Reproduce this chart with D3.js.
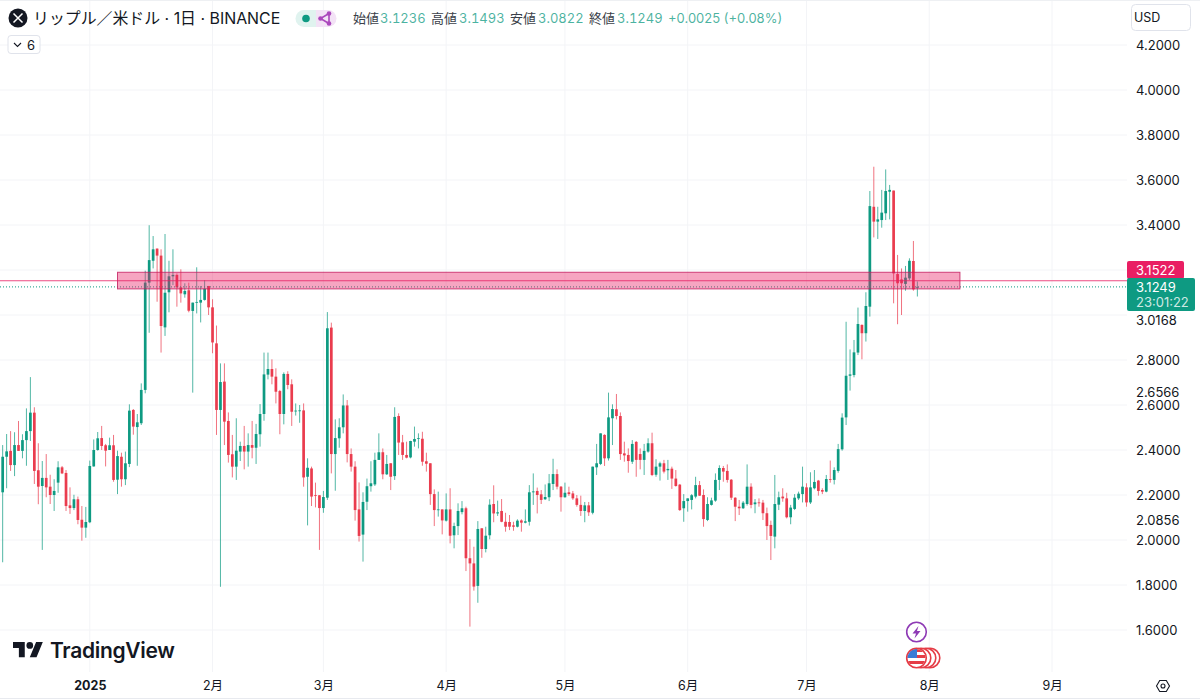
<!DOCTYPE html>
<html lang="ja">
<head>
<meta charset="utf-8">
<script src="https://cdn.jsdelivr.net/npm/d3@7"></script>
<style>
  html, body { margin: 0; background: #fff; }
  svg { display: block; font-family: Inter, "Noto Sans CJK JP", sans-serif; }
  .num { font-variant-numeric: tabular-nums; }
</style>
</head>
<body>
<svg id="chart" width="1200" height="700"></svg>
<script>
// [open, high, low, close]
const dec24 = [
  [2.212,2.422,1.901,2.370],[2.370,2.471,2.230,2.394],[2.396,2.484,2.307,2.333],[2.333,2.479,2.284,2.422],
  [2.422,2.529,2.396,2.396],[2.396,2.470,2.363,2.444],[2.444,2.585,2.330,2.484],[2.484,2.724,2.440,2.566],
  [2.566,2.590,2.249,2.307],[2.310,2.430,2.159,2.237],[2.240,2.351,1.956,2.276],[2.276,2.382,2.190,2.234],
  [2.237,2.290,2.160,2.200],[2.200,2.270,2.129,2.218],[2.255,2.350,2.210,2.323],[2.323,2.329,2.293,2.296],
  [2.298,2.311,2.129,2.151],[2.154,2.234,2.116,2.142],[2.142,2.201,2.133,2.181],[2.181,2.193,2.070,2.089],
  [2.090,2.151,1.997,2.055],[2.055,2.147,2.010,2.080]
];
const jan25 = [
  [2.079,2.353,2.075,2.329],[2.327,2.447,2.326,2.400],[2.400,2.480,2.397,2.452],[2.453,2.507,2.400,2.418],
  [2.421,2.427,2.327,2.397],[2.400,2.455,2.400,2.421],[2.421,2.467,2.259,2.267],[2.268,2.397,2.204,2.373],
  [2.370,2.388,2.237,2.270],[2.270,2.393,2.244,2.341],[2.338,2.603,2.324,2.575],[2.578,2.582,2.468,2.504],
  [2.502,2.560,2.330,2.523],[2.519,2.696,2.511,2.667],[2.667,3.197,2.652,3.144],[3.144,3.399,2.921,3.244],
  [3.241,3.351,3.207,3.292],[3.295,3.296,3.059,3.264],[3.264,3.292,2.833,2.951],[2.945,3.360,2.907,3.099],
  [3.101,3.241,3.012,3.172],[3.172,3.292,3.133,3.178],[3.178,3.185,3.037,3.123],[3.123,3.203,3.055,3.096],
  [3.092,3.141,3.077,3.107],[3.110,3.144,3.012,3.019],[3.018,3.055,2.655,3.055],[3.055,3.212,3.007,3.058],
  [3.055,3.129,2.967,3.067],[3.067,3.155,3.064,3.117],[3.129,3.129,3.000,3.034]
];
const feb25 = [
  [3.034,3.070,2.830,2.878],[2.874,2.953,2.467,2.578],[2.578,2.785,1.792,2.702],[2.704,2.785,2.422,2.526],
  [2.529,2.567,2.344,2.378],[2.381,2.467,2.278,2.326],[2.326,2.541,2.267,2.397],[2.393,2.437,2.351,2.418],
  [2.418,2.507,2.314,2.393],[2.393,2.474,2.326,2.422],[2.422,2.529,2.363,2.410],[2.410,2.516,2.338,2.471],
  [2.470,2.604,2.415,2.560],[2.560,2.833,2.530,2.736],[2.735,2.833,2.714,2.760],[2.760,2.803,2.692,2.726],
  [2.726,2.763,2.607,2.659],[2.662,2.667,2.470,2.560],[2.560,2.745,2.514,2.738],[2.738,2.750,2.670,2.689],
  [2.692,2.714,2.507,2.570],[2.572,2.607,2.553,2.575],[2.573,2.600,2.521,2.576],[2.576,2.607,2.237,2.278],
  [2.281,2.363,2.065,2.321],[2.318,2.326,2.151,2.193],[2.199,2.255,2.145,2.197],[2.199,2.199,1.956,2.142]
];
const mar25 = [
  [2.142,2.218,2.121,2.191],[2.188,3.013,2.178,2.941],[2.944,2.966,2.296,2.382],[2.382,2.536,2.219,2.453],
  [2.452,2.541,2.410,2.501],[2.501,2.647,2.474,2.598],[2.598,2.622,2.345,2.382],[2.382,2.407,2.304,2.326],
  [2.326,2.350,2.086,2.133],[2.136,2.256,1.993,2.018],[2.024,2.212,1.904,2.169],[2.170,2.273,2.133,2.239],
  [2.239,2.350,2.215,2.252],[2.247,2.388,2.240,2.356],[2.356,2.474,2.356,2.390],[2.390,2.407,2.270,2.292],
  [2.292,2.378,2.289,2.338],[2.341,2.341,2.222,2.281],[2.284,2.590,2.267,2.547],[2.551,2.563,2.378,2.433],
  [2.434,2.467,2.356,2.378],[2.378,2.437,2.363,2.366],[2.367,2.441,2.363,2.440],[2.437,2.504,2.415,2.449],
  [2.450,2.474,2.407,2.453],[2.450,2.481,2.330,2.348],[2.350,2.388,2.304,2.339],[2.341,2.341,2.156,2.204],
  [2.204,2.225,2.062,2.133],[2.133,2.215,2.104,2.136],[2.136,2.136,2.025,2.087]
];
const apr25 = [
  [2.086,2.207,2.082,2.136],[2.136,2.230,1.985,2.019],[2.021,2.077,1.963,2.062],[2.062,2.163,2.022,2.129],
  [2.124,2.173,2.114,2.141],[2.141,2.148,1.862,1.919],[1.919,2.004,1.615,1.896],[1.896,1.970,1.775,1.793],
  [1.796,2.084,1.721,2.049],[2.052,2.052,1.921,1.960],[1.960,2.059,1.945,2.019],[2.021,2.181,2.003,2.157],
  [2.160,2.243,2.079,2.118],[2.118,2.175,2.107,2.123],[2.129,2.182,2.079,2.081],[2.081,2.121,2.037,2.059],
  [2.080,2.111,2.044,2.059],[2.065,2.081,2.041,2.059],[2.059,2.092,2.056,2.086],[2.087,2.092,2.037,2.077],
  [2.077,2.136,2.074,2.083],[2.081,2.244,2.064,2.212],[2.212,2.296,2.156,2.216],[2.218,2.233,2.118,2.200],
  [2.203,2.222,2.160,2.178],[2.181,2.247,2.178,2.191],[2.190,2.293,2.173,2.252],[2.249,2.361,2.222,2.293],
  [2.293,2.314,2.225,2.237],[2.237,2.240,2.126,2.190]
];
const may25 = [
  [2.190,2.255,2.188,2.210],[2.212,2.237,2.196,2.204],[2.207,2.218,2.178,2.185],[2.185,2.200,2.148,2.156],
  [2.156,2.197,2.107,2.129],[2.129,2.169,2.079,2.154],[2.154,2.169,2.107,2.123],[2.121,2.326,2.114,2.326],
  [2.323,2.427,2.289,2.341],[2.338,2.474,2.333,2.474],[2.467,2.470,2.329,2.363],[2.363,2.655,2.353,2.545],
  [2.541,2.603,2.422,2.582],[2.581,2.649,2.536,2.551],[2.551,2.567,2.356,2.382],[2.385,2.437,2.348,2.376],
  [2.378,2.407,2.299,2.351],[2.348,2.444,2.338,2.427],[2.436,2.440,2.281,2.356],[2.382,2.407,2.314,2.356],
  [2.356,2.427,2.289,2.396],[2.393,2.452,2.388,2.430],[2.430,2.477,2.284,2.289],[2.290,2.359,2.281,2.326],
  [2.326,2.348,2.264,2.341],[2.341,2.356,2.296,2.304],[2.310,2.356,2.267,2.316],[2.317,2.326,2.227,2.273],
  [2.273,2.311,2.237,2.240],[2.246,2.249,2.129,2.133],[2.141,2.204,2.081,2.173]
];
const jun25 = [
  [2.173,2.185,2.126,2.185],[2.178,2.204,2.136,2.199],[2.193,2.281,2.185,2.244],[2.244,2.262,2.196,2.197],
  [2.200,2.225,2.059,2.093],[2.089,2.190,2.084,2.160],[2.156,2.188,2.153,2.176],[2.175,2.296,2.170,2.267],
  [2.267,2.332,2.222,2.320],[2.320,2.329,2.259,2.304],[2.307,2.336,2.255,2.267],[2.268,2.271,2.178,2.188],
  [2.188,2.190,2.084,2.148],[2.148,2.178,2.111,2.141],[2.141,2.173,2.138,2.166],[2.160,2.336,2.153,2.237],
  [2.237,2.252,2.141,2.156],[2.159,2.182,2.119,2.167],[2.167,2.185,2.148,2.164],[2.166,2.178,2.089,2.119],
  [2.119,2.144,2.000,2.062],[2.067,2.086,1.911,2.018],[2.015,2.289,1.963,2.160],[2.157,2.215,2.133,2.190],
  [2.193,2.230,2.170,2.185],[2.185,2.210,2.096,2.101],[2.101,2.156,2.070,2.144],[2.138,2.204,2.133,2.188],
  [2.185,2.215,2.178,2.206],[2.204,2.326,2.167,2.237]
];
const jul25 = [
  [2.234,2.252,2.148,2.167],[2.167,2.301,2.160,2.234],[2.230,2.311,2.225,2.258],[2.264,2.267,2.197,2.218],
  [2.222,2.230,2.204,2.215],[2.215,2.289,2.212,2.271],[2.271,2.353,2.255,2.268],[2.267,2.323,2.247,2.311],
  [2.307,2.427,2.299,2.404],[2.403,2.563,2.397,2.544],[2.545,2.970,2.511,2.730],[2.730,2.847,2.664,2.736],
  [2.733,2.889,2.723,2.834],[2.833,3.033,2.822,2.960],[2.956,2.958,2.803,2.919],[2.919,3.101,2.882,3.040],
  [3.037,3.551,2.993,3.484],[3.481,3.659,3.345,3.415],[3.415,3.481,3.338,3.425],[3.422,3.556,3.388,3.455],
  [3.452,3.647,3.422,3.551],[3.548,3.578,3.425,3.556],[3.553,3.553,3.052,3.185],[3.182,3.267,2.959,3.141],
  [3.158,3.207,3.000,3.141],[3.138,3.218,3.108,3.166],[3.163,3.252,3.155,3.241],[3.240,3.329,3.108,3.114],
  [3.1236,3.1493,3.0822,3.1249]
];

const priceTicks = [1.6, 1.8, 2.0, 2.2, 2.4, 2.6, 2.8, 3.0, 3.2, 3.4, 3.6, 3.8, 4.0, 4.2];
const hiddenTicks = [3.0, 3.2];
const extraTicks = [3.0168, 2.6566, 2.0856];
const monthLabels = ["2025", "2月", "3月", "4月", "5月", "6月", "7月", "8月", "9月"];
const firstDay = new Date(Date.UTC(2024, 11, 10));
const lastDay = new Date(Date.UTC(2025, 8, 1));
const monthTicks = monthLabels.map((d, i) => new Date(Date.UTC(2025, i, 1)));

const zoneTop = 3.1900;
const zoneBottom = 3.1160;
const zoneStart = new Date(Date.UTC(2025, 0, 8));
const zoneEnd = new Date(Date.UTC(2025, 7, 8, 18));
const alertPrice = 3.1522;
const lastPrice = 3.1249;

const headerStats = [
  ["始値", "3.1236", 353, 380], ["高値", "3.1493", 431, 459],
  ["安値", "3.0822", 510, 538], ["終値", "3.1249", 589, 617]
];

const up = "#0e9a82", down = "#ea3c4e";
const gridColor = "#f3f4f7";
const plotRight = 1127;

const candles = [...dec24, ...jan25, ...feb25, ...mar25, ...apr25, ...may25, ...jun25, ...jul25]
  .map((d, i) => ({ date: d3.utcDay.offset(firstDay, i), open: d[0], high: d[1], low: d[2], close: d[3] }));

const svg = d3.select("#chart");
const x = d3.scaleUtc().domain([firstDay, lastDay]).range([2.67, 1052]);
const y = d3.scaleLinear().domain([1.6, 4.2]).range([630, 45]);

// grid
svg.append("g").selectAll("line").data(priceTicks).enter().append("line")
  .attr("x1", 0).attr("x2", plotRight)
  .attr("y1", d => y(d)).attr("y2", d => y(d))
  .attr("stroke", gridColor);
svg.append("g").selectAll("line").data(monthTicks).enter().append("line")
  .attr("x1", d => x(d)).attr("x2", d => x(d))
  .attr("y1", 0).attr("y2", 672)
  .attr("stroke", gridColor);

// axes
const yAxis = d3.axisRight(y)
  .tickValues([...priceTicks.filter(d => !hiddenTicks.includes(d)), ...extraTicks])
  .tickFormat(d3.format(".4f"))
  .tickSize(0).tickPadding(0);
const yAxisG = svg.append("g").attr("transform", "translate(1136,0)").call(yAxis);
yAxisG.select(".domain").remove();
yAxisG.selectAll("text").attr("fill", "#131722").style("font-size", "13px").style("font-family", "Inter");
// 3.0168 gets pushed down under the countdown badge
yAxisG.selectAll(".tick").filter(d => d === 3.0168).select("text").attr("dy", "1.0em");

const xAxis = d3.axisBottom(x)
  .tickValues(monthTicks)
  .tickFormat((d, i) => monthLabels[i])
  .tickSize(0).tickPadding(0);
const xAxisG = svg.append("g").attr("transform", "translate(0,681)").call(xAxis);
xAxisG.select(".domain").remove();
xAxisG.selectAll("text")
  .attr("fill", "#131722")
  .style("font-size", "12.5px")
  .style("font-family", "Inter, 'Noto Sans CJK JP'")
  .style("font-weight", (d, i) => i === 0 ? 700 : 400);

svg.append("line").attr("x1", 0).attr("x2", 1200).attr("y1", 698.5).attr("y2", 698.5).attr("stroke", "#e8eaef");
svg.append("line").attr("x1", 0).attr("x2", 1200).attr("y1", 0.5).attr("y2", 0.5).attr("stroke", "#eef0f3");

// candles
const candle = svg.append("g").selectAll("g").data(candles).enter().append("g")
  .attr("stroke", d => d.close >= d.open ? up : down)
  .attr("fill", d => d.close >= d.open ? up : down);
candle.append("line")
  .attr("x1", d => x(d.date)).attr("x2", d => x(d.date))
  .attr("y1", d => y(d.high)).attr("y2", d => y(d.low))
  .attr("stroke-width", 0.9).attr("stroke-opacity", 0.8);
candle.append("rect")
  .attr("x", d => x(d.date) - 1.35)
  .attr("width", 2.7)
  .attr("y", d => y(Math.max(d.open, d.close)))
  .attr("height", d => Math.max(0.8, Math.abs(y(d.open) - y(d.close))))
  .attr("stroke", "none");

// price lines and zone
svg.append("line").attr("x1", 0).attr("x2", plotRight)
  .attr("y1", y(lastPrice)).attr("y2", y(lastPrice))
  .attr("stroke", up).attr("stroke-dasharray", "1 2");
svg.append("rect")
  .attr("x", x(zoneStart)).attr("width", x(zoneEnd) - x(zoneStart))
  .attr("y", y(zoneTop)).attr("height", y(zoneBottom) - y(zoneTop))
  .attr("fill", "#e91e63").attr("fill-opacity", 0.4)
  .attr("stroke", "#c2185b").attr("stroke-opacity", 0.8);
svg.append("line").attr("x1", 0).attr("x2", plotRight)
  .attr("y1", y(alertPrice)).attr("y2", y(alertPrice))
  .attr("stroke", "#e91e63").attr("stroke-opacity", 0.8);

// price badges
svg.append("rect").attr("x", 1127).attr("y", 261).attr("width", 57).attr("height", 18).attr("rx", 2).attr("fill", "#e91e63");
svg.append("text").attr("x", 1136).attr("y", 274.5).attr("fill", "#fff").style("font-size", "13px").text(d3.format(".4f")(alertPrice));
svg.append("rect").attr("x", 1127).attr("y", 278).attr("width", 68).attr("height", 33).attr("rx", 2).attr("fill", up);
svg.append("text").attr("x", 1136).attr("y", 291.5).attr("fill", "#fff").style("font-size", "13px").text(d3.format(".4f")(lastPrice));
svg.append("text").attr("x", 1136).attr("y", 306.5).attr("fill", "#fff").attr("fill-opacity", 0.8).style("font-size", "13px").text("23:01:22");

// header
svg.append("circle").attr("cx", 18).attr("cy", 18).attr("r", 9.5).attr("fill", "#131722");
svg.append("path").attr("d", "M13.5 13.5L22.5 22.5M22.5 13.5L13.5 22.5").attr("stroke", "#fff").attr("stroke-width", 1.5);
svg.append("text").attr("x", 33).attr("y", 24).attr("fill", "#131722")
  .style("font-size", "15.9px").style("font-family", "Inter, 'Noto Sans CJK JP'")
  .text("リップル／米ドル · 1日 · BINANCE");

svg.append("path").attr("d", "M304 10H316V27H304A8.5 8.5 0 0 1 304 10Z").attr("fill", "#e0f3ef");
svg.append("path").attr("d", "M316 10H328A8.5 8.5 0 0 1 328 27H316Z").attr("fill", "#f3e2f6");
svg.append("circle").attr("cx", 306).attr("cy", 18.5).attr("r", 3.8).attr("fill", up);
svg.append("path").attr("d", "M329 13.5L320.5 18.5L329 23.5Z").attr("fill", "none").attr("stroke", "#ab47bc").attr("stroke-width", 1.6);
svg.selectAll(".share").data([[329, 13.5], [320.5, 18.5], [329, 23.5]]).enter().append("circle")
  .attr("class", "share").attr("cx", d => d[0]).attr("cy", d => d[1]).attr("r", 2.3).attr("fill", "#ab47bc");

const stat = svg.append("g").style("font-size", "13px").style("font-family", "Inter, 'Noto Sans CJK JP'");
headerStats.forEach(s => {
  stat.append("text").attr("x", s[2]).attr("y", 23).attr("fill", "#3b3f4a").text(s[0]);
  stat.append("text").attr("class", "num").attr("x", s[3]).attr("y", 23).attr("fill", up).attr("fill-opacity", 0.75).text(s[1]);
});
stat.append("text").attr("x", 668).attr("y", 23).attr("fill", up).attr("fill-opacity", 0.75).text("+0.0025 (+0.08%)");

svg.append("rect").attr("x", 8).attr("y", 35.5).attr("width", 32).attr("height", 18).attr("rx", 3)
  .attr("fill", "#fff").attr("stroke", "#e0e3eb");
svg.append("path").attr("d", "M14 43L17.5 46.5L21 43").attr("fill", "none").attr("stroke", "#131722").attr("stroke-width", 1.1);
svg.append("text").attr("x", 27).attr("y", 49.5).attr("fill", "#131722").style("font-size", "13px").text("6");

svg.append("rect").attr("x", 1131.5).attr("y", 4.5).attr("width", 59).attr("height", 26).attr("rx", 4)
  .attr("fill", "#fff").attr("stroke", "#e0e3eb");
svg.append("text").attr("x", 1134).attr("y", 22).attr("fill", "#131722").style("font-size", "12.5px").text("USD");

// logo
const logo = svg.append("g").attr("transform", "translate(13,638.7) scale(0.84)").attr("fill", "#131722");
logo.append("path").attr("d", "M14 22H7V11H0V4h14v18zM28 22h-8l7.5-18h8L28 22z");
logo.append("circle").attr("cx", 20).attr("cy", 8).attr("r", 4);
svg.append("text").attr("x", 50).attr("y", 657.5).attr("fill", "#131722")
  .style("font-size", "21px").style("font-weight", 600).style("letter-spacing", "-0.3px").text("TradingView");

// event markers
svg.append("circle").attr("cx", 916.5).attr("cy", 632).attr("r", 9.8).attr("fill", "#fff").attr("stroke", "#8e3ab5").attr("stroke-width", 1.6);
svg.append("path").attr("d", "M918.5 626L912.5 633.5H916L914.5 638.5L920.5 631H917Z").attr("fill", "#8e3ab5");

const flagDefs = svg.append("defs").append("clipPath").attr("id", "flagClip");
flagDefs.append("circle").attr("cx", 916.5).attr("cy", 658).attr("r", 9);
[930, 926, 921].forEach(cx => {
  svg.append("circle").attr("cx", cx).attr("cy", 658).attr("r", 9.8).attr("fill", "#fff").attr("stroke", "#e53c46").attr("stroke-width", 1.6);
});
svg.append("circle").attr("cx", 916.5).attr("cy", 658).attr("r", 9.8).attr("fill", "#fff").attr("stroke", "#e53c46").attr("stroke-width", 1.6);
const flag = svg.append("g").attr("clip-path", "url(#flagClip)");
d3.range(0, 6).forEach(i => {
  if (i % 2 === 0) flag.append("rect").attr("x", 907).attr("y", 649 + i * 3).attr("width", 20).attr("height", 3).attr("fill", "#e53c46");
});
flag.append("rect").attr("x", 907).attr("y", 649).attr("width", 10).attr("height", 9).attr("fill", "#3a7bd5");

// settings
svg.append("path").attr("d", "M1156.5 686L1159.7 680.5H1166.3L1169.5 686L1166.3 691.5H1159.7Z")
  .attr("fill", "none").attr("stroke", "#131722").attr("stroke-width", 1.1);
svg.append("circle").attr("cx", 1163).attr("cy", 686).attr("r", 2).attr("fill", "none").attr("stroke", "#131722").attr("stroke-width", 1.1);
</script>
</body>
</html>
